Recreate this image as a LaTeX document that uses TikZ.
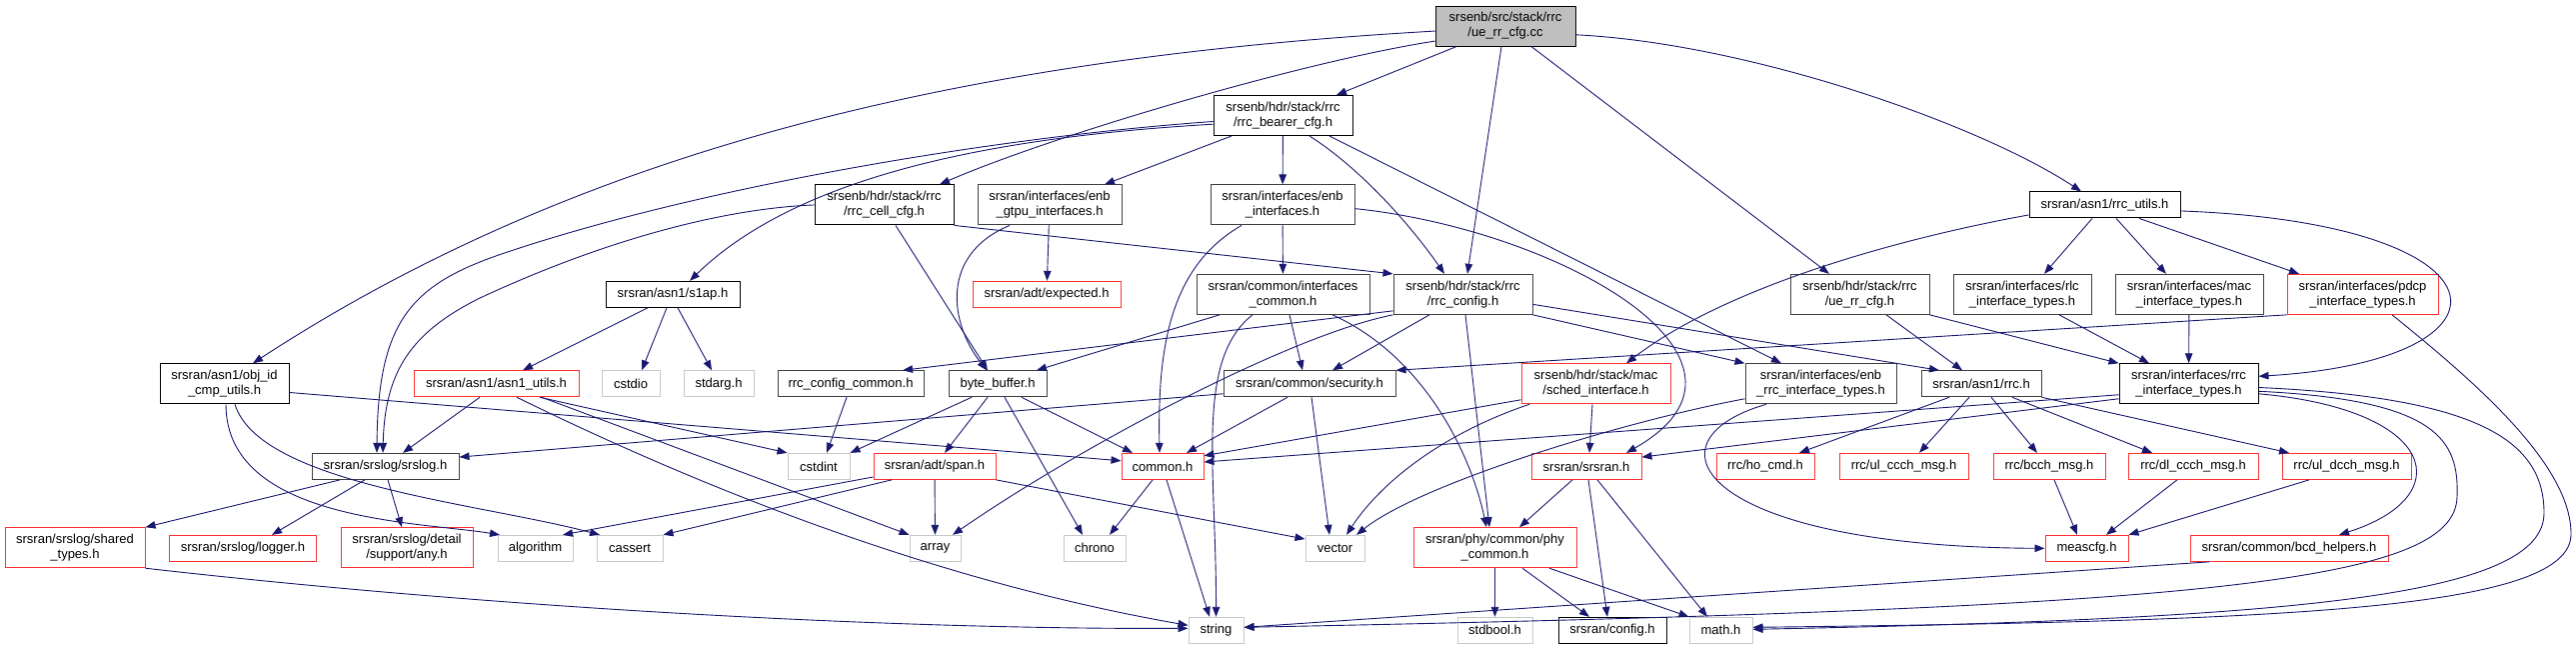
\documentclass[tikz,border=0pt]{standalone}
\usepackage{fontspec}
\setmainfont{Liberation Sans}
\usetikzlibrary{arrows.meta}

\definecolor{edgeblue}{RGB}{25,25,112}
\definecolor{boxgray}{RGB}{64,64,64}
\definecolor{boxred}{RGB}{255,50,50}
\definecolor{sysgray}{RGB}{200,200,200}
\definecolor{rootfill}{RGB}{191,191,191}

\begin{document}
\begin{tikzpicture}[
  x=1pt, y=-1.242pt,
  hdr/.style     = {draw=black, line width=1pt, fill=white, align=center, inner sep=0pt,
                    minimum height=26pt, font=\fontsize{13}{15}\selectfont},
  twoline/.style = {minimum height=40pt},
  docbox/.style  = {hdr, draw=boxgray},
  redbox/.style  = {hdr, draw=boxred},
  sysbox/.style  = {hdr, draw=sysgray},
  rootbox/.style = {hdr, twoline, fill=rootfill},
  dep/.style     = {-{Triangle[length=10pt,width=7.5pt]}, line width=0.9pt, draw=edgeblue},
]
\useasboundingbox (0,0) rectangle (2577,521.74);

\node[rootbox, minimum width=140pt] (uerrcfgcc) at (1506,21) {srsenb/src/stack/rrc\\/ue\_rr\_cfg.cc};

\node[hdr, twoline, minimum width=139pt] (bearercfg) at (1283.5,93) {srsenb/hdr/stack/rrc\\/rrc\_bearer\_cfg.h};

\node[hdr, twoline, minimum width=139pt] (cellcfg) at (884.5,165) {srsenb/hdr/stack/rrc\\/rrc\_cell\_cfg.h};
\node[docbox, twoline, minimum width=144pt] (gtpu) at (1050,165) {srsran/interfaces/enb\\\_gtpu\_interfaces.h};
\node[docbox, twoline, minimum width=144pt] (enbif) at (1283,165) {srsran/interfaces/enb\\\_interfaces.h};
\node[hdr, minimum width=151pt] (rrcutils) at (2105.5,165) {srsran/asn1/rrc\_utils.h};

\node[hdr, minimum width=134pt] (s1ap) at (673,237) {srsran/asn1/s1ap.h};
\node[redbox, minimum width=148pt] (expected) at (1047,237) {srsran/adt/expected.h};
\node[docbox, twoline, minimum width=173pt] (ifcommon) at (1283.5,237) {srsran/common/interfaces\\\_common.h};
\node[docbox, twoline, minimum width=139pt] (rrcconfig) at (1463.5,237) {srsenb/hdr/stack/rrc\\/rrc\_config.h};
\node[docbox, twoline, minimum width=139pt] (uerrcfgh) at (1860.5,237) {srsenb/hdr/stack/rrc\\/ue\_rr\_cfg.h};
\node[docbox, twoline, minimum width=138pt] (rlcif) at (2023,237) {srsran/interfaces/rlc\\\_interface\_types.h};
\node[docbox, twoline, minimum width=148pt] (macif) at (2190,237) {srsran/interfaces/mac\\\_interface\_types.h};
\node[redbox, twoline, minimum width=151pt] (pdcpif) at (2363.5,237) {srsran/interfaces/pdcp\\\_interface\_types.h};

\node[hdr, twoline, minimum width=129pt] (objid) at (224.5,309) {srsran/asn1/obj\_id\\\_cmp\_utils.h};
\node[redbox, minimum width=165pt] (asn1utils) at (496.5,309) {srsran/asn1/asn1\_utils.h};
\node[sysbox, minimum width=58pt] (cstdio) at (631,309) {cstdio};
\node[sysbox, minimum width=70pt] (stdarg) at (719,309) {stdarg.h};
\node[docbox, minimum width=146pt] (rrccfgcommon) at (851,309) {rrc\_config\_common.h};
\node[docbox, minimum width=98pt] (bytebuffer) at (998,309) {byte\_buffer.h};
\node[docbox, minimum width=172pt] (security) at (1310,309) {srsran/common/security.h};
\node[redbox, twoline, minimum width=149pt] (schedif) at (1596.5,309) {srsenb/hdr/stack/mac\\/sched\_interface.h};
\node[docbox, twoline, minimum width=151pt] (enbrrcif) at (1821.5,309) {srsran/interfaces/enb\\\_rrc\_interface\_types.h};
\node[docbox, minimum width=120pt] (asn1rrc) at (1982,309) {srsran/asn1/rrc.h};
\node[hdr, twoline, minimum width=139pt] (rrcif) at (2189.5,309) {srsran/interfaces/rrc\\\_interface\_types.h};

\node[docbox, minimum width=147pt] (srslog) at (385.5,375.5) {srsran/srslog/srslog.h};
\node[sysbox, minimum width=62pt] (cstdint) at (819,375.5) {cstdint};
\node[redbox, minimum width=122pt] (span) at (935,375.5) {srsran/adt/span.h};
\node[redbox, minimum width=82pt] (commonh) at (1163,375.5) {common.h};
\node[redbox, minimum width=110pt] (srsranh) at (1587,375.5) {srsran/srsran.h};
\node[redbox, minimum width=98pt] (hocmd) at (1766,375.5) {rrc/ho\_cmd.h};
\node[redbox, minimum width=129pt] (ulccch) at (1904.5,375.5) {rrc/ul\_ccch\_msg.h};
\node[redbox, minimum width=112pt] (bcch) at (2050,375.5) {rrc/bcch\_msg.h};
\node[redbox, minimum width=130pt] (dlccch) at (2194,375.5) {rrc/dl\_ccch\_msg.h};
\node[redbox, minimum width=129pt] (uldcch) at (2347.5,375.5) {rrc/ul\_dcch\_msg.h};

\node[redbox, twoline, minimum width=140pt] (sharedtypes) at (75,441) {srsran/srslog/shared\\\_types.h};
\node[redbox, minimum width=147pt] (logger) at (243,441.5) {srsran/srslog/logger.h};
\node[redbox, twoline, minimum width=132pt] (anyh) at (407,441) {srsran/srslog/detail\\/support/any.h};
\node[sysbox, minimum width=75pt] (algorithm) at (535.5,441.5) {algorithm};
\node[sysbox, minimum width=66pt] (cassert) at (630,441.5) {cassert};
\node[sysbox, minimum width=51pt] (array) at (935.5,441.5) {array};
\node[sysbox, minimum width=62pt] (chrono) at (1095,441.5) {chrono};
\node[sysbox, minimum width=59pt] (vector) at (1335.5,441.5) {vector};
\node[redbox, twoline, minimum width=163pt] (phycommon) at (1495.5,441) {srsran/phy/common/phy\\\_common.h};
\node[redbox, minimum width=83pt] (meascfg) at (2087.5,441.5) {meascfg.h};
\node[redbox, minimum width=198pt] (bcdhelpers) at (2290,441.5) {srsran/common/bcd\_helpers.h};

\node[sysbox, minimum width=55pt] (stringh) at (1216.5,507.5) {string};
\node[sysbox, minimum width=75pt] (stdbool) at (1495.5,507.5) {stdbool.h};
\node[hdr, minimum width=108pt] (configh) at (1613,507.5) {srsran/config.h};
\node[sysbox, minimum width=63pt] (mathh) at (1721.5,507.5) {math.h};

\draw[dep] ([yshift=-5pt]uerrcfgcc.west) .. controls (1000,45) and (600,110) .. ([xshift=28.5pt]objid.north);
\draw[dep] ([yshift=-15pt]uerrcfgcc.west) .. controls (1300,50) and (1050,110) .. ([xshift=55.5pt]cellcfg.north);
\draw[dep] ([xshift=-49pt]uerrcfgcc.south) -- ([xshift=53.5pt]bearercfg.north);
\draw[dep] ([xshift=-4pt]uerrcfgcc.south) -- ([xshift=4.5pt]rrcconfig.north);
\draw[dep] ([xshift=26pt]uerrcfgcc.south) -- ([xshift=-30.5pt]uerrcfgh.north);
\draw[dep] ([yshift=-8.7pt]uerrcfgcc.east) .. controls (1750,35) and (1980,100) .. ([xshift=-23.5pt]rrcutils.north);

\draw[dep] ([yshift=-6pt]bearercfg.west) .. controls (1000,110) and (700,150) .. (500,205) .. controls (410,230) and (378,260) .. ([xshift=-8.5pt]srslog.north);
\draw[dep] ([yshift=-8.7pt]bearercfg.west) .. controls (1000,110) and (800,140) .. ([xshift=17pt]s1ap.north);
\draw[dep] ([xshift=-51.5pt]bearercfg.south) -- ([xshift=55pt]gtpu.north);
\draw[dep] (bearercfg) -- (enbif);
\draw[dep] ([xshift=26.5pt]bearercfg.south) .. controls (1360,135) and (1410,180) .. ([xshift=-18.5pt]rrcconfig.north);
\draw[dep] ([xshift=46.5pt]bearercfg.south) -- ([xshift=-39.5pt]enbrrcif.north);

\draw[dep] (cellcfg.west) .. controls (720,168) and (600,195) .. (480,240) .. controls (410,268) and (385,300) .. ([xshift=-2.5pt]srslog.north);
\draw[dep] ([xshift=11.5pt]cellcfg.south) -- ([xshift=-10pt]bytebuffer.north);
\draw[dep] (cellcfg.south east) -- (rrcconfig.north west);

\draw[dep] ([yshift=-8.7pt]objid.east) -- ([yshift=5.6pt]commonh.west);
\draw[dep] ([xshift=1.5pt]objid.south) .. controls (226,420) and (420,420) .. ([xshift=-35.5pt]algorithm.north);
\draw[dep] ([xshift=10.5pt]objid.south) .. controls (260,390) and (480,405) .. ([xshift=-30pt]cassert.north);

\draw[dep] ([yshift=-10pt]rrcutils.west) .. controls (1880,195) and (1720,235) .. ([xshift=30.5pt]schedif.north);
\draw[dep] ([xshift=-12.5pt]rrcutils.south) -- ([xshift=22pt]rlcif.north);
\draw[dep] ([xshift=11.5pt]rrcutils.south) -- ([xshift=-23pt]macif.north);
\draw[dep] ([xshift=34.5pt]rrcutils.south) -- ([xshift=-63.5pt]pdcpif.north);
\draw[dep] ([yshift=-6pt]rrcutils.east) .. controls (2520,180) and (2530,290) .. ([yshift=7.5pt]rrcif.east);

\draw[dep] ([xshift=26.5pt]uerrcfgh.south) -- ([xshift=-19pt]asn1rrc.north);
\draw[dep] (uerrcfgh.south east) -- (rrcif.north west);

\draw[dep] (gtpu) -- (expected);
\draw[dep] ([xshift=-40pt]gtpu.south) .. controls (940,205) and (950,260) .. ([xshift=-11pt]bytebuffer.north);

\draw[dep] (enbif) -- (ifcommon);
\draw[dep] ([xshift=-41pt]enbif.south) .. controls (1170,215) and (1158,280) .. ([xshift=-3pt]commonh.north);
\draw[dep] ([yshift=-3.7pt]enbif.east) .. controls (1560,185) and (1790,290) .. ([xshift=40pt]srsranh.north);

\draw[dep] ([xshift=-63.5pt]ifcommon.south) -- ([xshift=39pt]bytebuffer.north);
\draw[dep] ([xshift=-30.5pt]ifcommon.south) .. controls (1195,290) and (1217,380) .. (stringh.north);
\draw[dep] ([xshift=6.5pt]ifcommon.south) -- ([xshift=-7pt]security.north);
\draw[dep] ([xshift=49.5pt]ifcommon.south) .. controls (1420,285) and (1470,360) .. ([xshift=-8.5pt]phycommon.north);

\draw[dep] ([yshift=4pt]rrcconfig.south west) -- ([xshift=52pt]rrccfgcommon.north);
\draw[dep] (rrcconfig.south west) .. controls (1290,270) and (1080,360) .. ([xshift=17.5pt]array.north);
\draw[dep] ([xshift=-33.5pt]rrcconfig.south) -- ([xshift=23pt]security.north);
\draw[dep] ([xshift=2.5pt]rrcconfig.south) -- ([xshift=-5.5pt]phycommon.north);
\draw[dep] (rrcconfig.south east) -- (enbrrcif.north west);
\draw[dep] ([yshift=-10pt]rrcconfig.east) -- ([xshift=-42pt]asn1rrc.north);

\draw[dep] ([xshift=-25pt]s1ap.south) -- ([xshift=26.5pt]asn1utils.north);
\draw[dep] ([xshift=-6pt]s1ap.south) -- ([xshift=11pt]cstdio.north);
\draw[dep] ([xshift=5pt]s1ap.south) -- ([xshift=-7pt]stdarg.north);

\draw[dep] ([xshift=37pt]rlcif.south) -- ([xshift=-39.5pt]rrcif.north);
\draw[dep] (macif) -- (rrcif);
\draw[dep] (pdcpif.south west) -- (security.north east);
\draw[dep] ([xshift=29.5pt]pdcpif.south) .. controls (2480,310) and (2572,375) .. (2572,430) .. controls (2572,490) and (2300,500) .. ([yshift=3pt]mathh.east);

\draw[dep] ([xshift=-16.5pt]asn1utils.south) -- ([xshift=17.5pt]srslog.north);
\draw[dep] ([xshift=43.5pt]asn1utils.south) -- (cstdint.north west);
\draw[dep] ([xshift=45.5pt]asn1utils.south) -- (array.north west);
\draw[dep] ([xshift=20.5pt]asn1utils.south) .. controls (720,400) and (950,470) .. ([yshift=5pt]stringh.west);

\draw[dep] ([xshift=-4pt]rrccfgcommon.south) -- ([xshift=8pt]cstdint.north);
\draw[dep] ([xshift=-10pt]bytebuffer.south) -- ([xshift=10pt]span.north);
\draw[dep] ([xshift=24pt]bytebuffer.south) -- ([xshift=-30pt]commonh.north);
\draw[dep] ([xshift=7pt]bytebuffer.south) -- ([xshift=-12pt]chrono.north);
\draw[dep] ([xshift=-26pt]bytebuffer.south) -- (cstdint.north east);

\draw[dep] ([yshift=-10pt]security.west) -- ([yshift=9.3pt]srslog.east);
\draw[dep] ([xshift=-22pt]security.south) -- ([xshift=24pt]commonh.north);
\draw[dep] ([xshift=2pt]security.south) -- ([xshift=-5.5pt]vector.north);

\draw[dep] ([xshift=-3.5pt]schedif.south) -- ([xshift=3pt]srsranh.north);
\draw[dep] ([yshift=-16pt]schedif.west) -- ([yshift=10.6pt]commonh.east);
\draw[dep] ([xshift=-66.5pt]schedif.south) .. controls (1440,350) and (1380,390) .. ([xshift=11.5pt]vector.north);

\draw[dep] ([yshift=-15pt]enbrrcif.west) .. controls (1620,340) and (1420,390) .. ([xshift=21.5pt]vector.north);
\draw[dep] ([xshift=-54.5pt]enbrrcif.south) .. controls (1640,355) and (1700,440) .. (meascfg.west);

\draw[dep] ([xshift=-32pt]asn1rrc.south) -- ([xshift=34pt]hocmd.north);
\draw[dep] ([xshift=-12pt]asn1rrc.south) -- ([xshift=15.5pt]ulccch.north);
\draw[dep] ([xshift=10pt]asn1rrc.south) -- ([xshift=-12pt]bcch.north);
\draw[dep] ([xshift=31pt]asn1rrc.south) -- ([xshift=-41pt]dlccch.north);
\draw[dep] (asn1rrc.south east) -- ([xshift=-57.5pt]uldcch.north);

\draw[dep] ([yshift=-11pt]rrcif.west) -- ([yshift=4.4pt]commonh.east);
\draw[dep] ([yshift=-15pt]rrcif.west) -- ([yshift=9.3pt]srsranh.east);
\draw[dep] ([yshift=-10pt]rrcif.east) .. controls (2440,330) and (2460,400) .. ([xshift=50pt]bcdhelpers.north);
\draw[dep] ([yshift=-7.5pt]rrcif.east) .. controls (2440,322) and (2460,355) .. (2458,400) .. controls (2456,470) and (2200,490) .. ([yshift=3pt]stringh.east);
\draw[dep] ([yshift=-3.7pt]rrcif.east) .. controls (2480,320) and (2545,355) .. (2545,413) .. controls (2545,480) and (2300,498) .. ([yshift=1pt]mathh.east);

\draw[dep] ([xshift=-45.5pt]srslog.south) -- (sharedtypes.north east);
\draw[dep] ([xshift=-20.5pt]srslog.south) -- ([xshift=29pt]logger.north);
\draw[dep] ([xshift=2.5pt]srslog.south) -- ([xshift=-5pt]anyh.north);

\draw[dep] ([yshift=-10.6pt]span.west) -- ([xshift=27.5pt]algorithm.north);
\draw[dep] ([xshift=-43pt]span.south) -- (cassert.north east);
\draw[dep] (span) -- (array);
\draw[dep] (span.south east) -- ([yshift=9.3pt]vector.west);

\draw[dep] ([xshift=-10pt]commonh.south) -- ([xshift=15pt]chrono.north);
\draw[dep] ([xshift=4pt]commonh.south) -- ([xshift=-6.5pt]stringh.north);

\draw[dep] ([xshift=-14pt]srsranh.south) -- ([xshift=24.5pt]phycommon.north);
\draw[dep] ([xshift=2pt]srsranh.south) -- ([xshift=-5pt]configh.north);
\draw[dep] ([xshift=11pt]srsranh.south) -- ([xshift=-13.5pt]mathh.north);

\draw[dep] (phycommon) -- (stdbool);
\draw[dep] ([xshift=27.5pt]phycommon.south) -- ([xshift=-23pt]configh.north);
\draw[dep] ([xshift=54.5pt]phycommon.south) -- (mathh.north west);

\draw[dep] ([xshift=5pt]bcch.south) -- ([xshift=-9.5pt]meascfg.north);
\draw[dep] ([xshift=-16pt]dlccch.south) -- ([xshift=19.5pt]meascfg.north);
\draw[dep] ([xshift=-37.5pt]uldcch.south) -- (meascfg.north east);

\draw[dep] ([xshift=-80pt]bcdhelpers.south) -- ([yshift=3pt]stringh.east);
\draw[dep] (sharedtypes.south east) .. controls (500,490) and (900,507) .. ([yshift=2pt]stringh.west);

\end{tikzpicture}
\end{document}
